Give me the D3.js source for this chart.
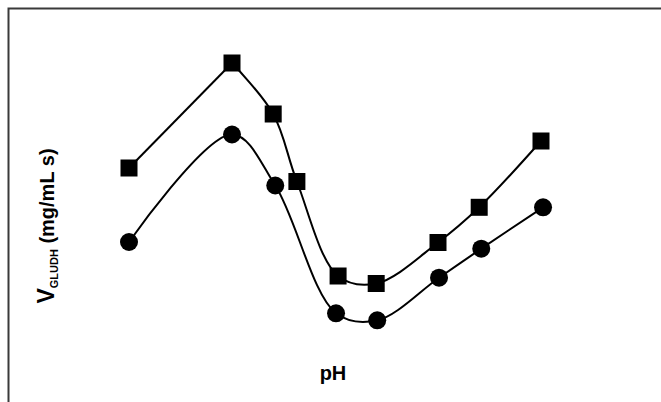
<!DOCTYPE html>
<html lang="en">
<head>
    <meta charset="UTF-8">
    <title>GLUDH activity vs pH</title>
    <script src="https://d3js.org/d3.v7.min.js"></script>
    <style>
        body { margin: 0; background: #fff; }
    </style>
</head>
<body>
    <div id="chart"></div>

    <script>
        // pH values and velocities (arbitrary units)
        const phSquares = [5.0, 6.0, 6.4, 6.63, 7.03, 7.4, 8.0, 8.4, 9.0];
        const vSquares = [1.92, 2.97, 2.46, 1.785, 0.84, 0.765, 1.175, 1.527, 2.19];

        const phCircles = [5.0, 6.0, 6.42, 7.01, 7.41, 8.01, 8.42, 9.02];
        const vCircles = [1.18, 2.255, 1.745, 0.467, 0.397, 0.823, 1.113, 1.527];

        // the square series is drawn straight up to its peak, smooth after it
        const squaresStraightUntil = 1;

        const width = 661;
        const height = 402;

        const x = d3.scaleLinear().domain([5, 9]).range([129, 541]);
        const y = d3.scaleLinear().domain([0, 3]).range([360, 60]);

        const svg = d3.select("#chart")
            .append("svg")
            .attr("width", width)
            .attr("height", height);

        // frame (only top and left edges are visible)
        svg.append("path")
            .attr("d", `M8.5,${height} L8.5,8.5 L${width},8.5`)
            .attr("fill", "none")
            .attr("stroke", "#3a3a3a")
            .attr("stroke-width", 2);

        const squares = phSquares.map((p, i) => ({ ph: p, v: vSquares[i] }));
        const circles = phCircles.map((p, i) => ({ ph: p, v: vCircles[i] }));

        const smooth = d3.line()
            .x(d => x(d.ph))
            .y(d => y(d.v))
            .curve(d3.curveCatmullRom.alpha(0.5));
        const straight = d3.line()
            .x(d => x(d.ph))
            .y(d => y(d.v));

        const pieces = [
            { data: squares.slice(0, squaresStraightUntil + 1), gen: straight },
            { data: squares.slice(squaresStraightUntil), gen: smooth },
            { data: circles, gen: smooth }
        ];

        pieces.forEach(p => {
            svg.append("path")
                .datum(p.data)
                .attr("d", p.gen)
                .attr("fill", "none")
                .attr("stroke", "#000")
                .attr("stroke-width", 2);
        });

        const sq = 17;
        svg.selectAll("rect.pt")
            .data(squares)
            .join("rect")
            .attr("class", "pt")
            .attr("x", d => x(d.ph) - sq / 2)
            .attr("y", d => y(d.v) - sq / 2)
            .attr("width", sq)
            .attr("height", sq)
            .attr("fill", "#000");

        svg.selectAll("circle.pt")
            .data(circles)
            .join("circle")
            .attr("class", "pt")
            .attr("cx", d => x(d.ph))
            .attr("cy", d => y(d.v))
            .attr("r", 9)
            .attr("fill", "#000");

        // axis titles
        svg.append("text")
            .attr("x", 333)
            .attr("y", 380)
            .attr("text-anchor", "middle")
            .style("font-family", "'Liberation Sans Narrow', 'Liberation Sans', Arial, sans-serif")
            .style("font-weight", "bold")
            .style("font-size", "20px")
            .text("pH");

        const yt = svg.append("text")
            .attr("transform", "translate(54,226) rotate(-90)")
            .attr("text-anchor", "middle")
            .style("font-family", "'Liberation Sans', Arial, sans-serif")
            .style("font-weight", "bold")
            .style("font-size", "20px");
        yt.append("tspan").style("font-size", "23px").text("V");
        yt.append("tspan")
            .attr("dy", 4)
            .style("font-family", "'Liberation Sans Narrow', 'Liberation Sans', Arial, sans-serif")
            .style("font-size", "11px")
            .text("GLUDH");
        yt.append("tspan")
            .attr("dy", -4)
            .text(" (mg/mL s)");
    </script>
</body>
</html>
